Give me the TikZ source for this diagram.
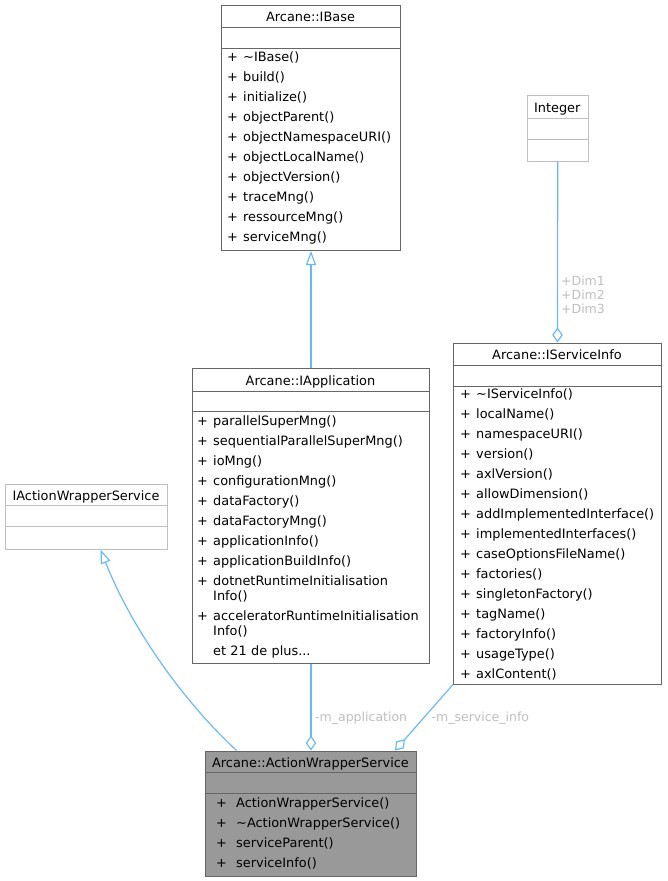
\documentclass[tikz,border=0pt]{standalone}
\usepackage{fontspec}
\setmainfont{DejaVu Sans}
\usepackage{xcolor}
\usepackage{tikz}
\usetikzlibrary{arrows.meta, positioning}

\definecolor{edgeblue}{HTML}{63B8FF}
\definecolor{boxgrey}{HTML}{666666}
\definecolor{undocgrey}{HTML}{BFBFBF}
\definecolor{mainfill}{HTML}{999999}
\definecolor{labelgrey}{HTML}{BEBEBE}
\newcommand{\cplus}[1][16pt]{\makebox[#1][l]{+}}

\begin{document}
\begin{tikzpicture}[x=1pt, y=-1pt,
		cls/.style={draw=boxgrey, line width=1pt, fill=white, inner sep=0pt, anchor=north west},
		undoc/.style={cls, draw=undocgrey},
		ttl/.style={anchor=base, inner sep=0pt, font=\fontsize{12.9}{15}\selectfont},
		mbr/.style={anchor=base west, inner sep=0pt, align=left, text width=250pt, font=\fontsize{12.9}{20}\selectfont},
		sepline/.style={draw=boxgrey, line width=1pt},
		lbl/.style={inner sep=0pt, text=labelgrey, font=\fontsize{12.5}{14.3}\selectfont},
		rel/.style={draw=edgeblue, line width=1.15pt},
		isa/.style={rel, -{Triangle[open, length=14pt, width=10pt]}},
		hasa/.style={rel, -{Diamond[open, length=15pt, width=10.5pt]}}]
				\useasboundingbox (0,0) rectangle (667,881);
				% Classes:
				\node[cls, minimum width=179pt, minimum height=245pt](IBase) at (221, 5){};
				\node[ttl](IBaseT) at (310.5, 21.5){Arcane::IBase};
				\draw[sepline] ([yshift=-22.5pt]IBase.north west) -- ([yshift=-22.5pt]IBase.north east);
				\draw[sepline] ([yshift=-43pt]IBase.north west) -- ([yshift=-43pt]IBase.north east);
				\node[mbr](IBaseM) at (227, 61.5){\cplus\textasciitilde IBase()\\ \cplus build()\\ \cplus initialize()\\ \cplus objectParent()\\ \cplus objectNamespaceURI()\\ \cplus objectLocalName()\\ \cplus objectVersion()\\ \cplus traceMng()\\ \cplus ressourceMng()\\ \cplus serviceMng()};
				\node[undoc, minimum width=60.5pt, minimum height=65.5pt](Integer) at (527, 95){};
				\node[ttl](IntegerT) at (557.25, 112.5){Integer};
				\draw[sepline, draw=undocgrey] ([yshift=-23pt]Integer.north west) -- ([yshift=-23pt]Integer.north east);
				\draw[sepline, draw=undocgrey] ([yshift=-44pt]Integer.north west) -- ([yshift=-44pt]Integer.north east);
				\node[cls, minimum width=237pt, minimum height=294.5pt](IApplication) at (192, 368){};
				\node[ttl](IApplicationT) at (310.5, 385){Arcane::IApplication};
				\draw[sepline] ([yshift=-23pt]IApplication.north west) -- ([yshift=-23pt]IApplication.north east);
				\draw[sepline] ([yshift=-43.5pt]IApplication.north west) -- ([yshift=-43.5pt]IApplication.north east);
				\node[mbr](IApplicationM) at (197, 425.5){\cplus parallelSuperMng()\\ \cplus sequentialParallelSuperMng()\\ \cplus ioMng()\\ \cplus configurationMng()\\ \cplus dataFactory()\\ \cplus dataFactoryMng()\\ \cplus applicationInfo()\\ \cplus applicationBuildInfo()\\ \cplus dotnetRuntimeInitialisation\\[-5pt] \hspace*{16pt}Info()\\ \cplus acceleratorRuntimeInitialisation\\[-5pt] \hspace*{16pt}Info()\\ \hspace*{16pt}et 21 de plus...};
				\node[cls, minimum width=208pt, minimum height=341pt](IServiceInfo) at (453, 342.5){};
				\node[ttl](IServiceInfoT) at (557, 359){Arcane::IServiceInfo};
				\draw[sepline] ([yshift=-22.5pt]IServiceInfo.north west) -- ([yshift=-22.5pt]IServiceInfo.north east);
				\draw[sepline] ([yshift=-43.5pt]IServiceInfo.north west) -- ([yshift=-43.5pt]IServiceInfo.north east);
				\node[mbr](IServiceInfoM) at (460, 398.5){\cplus\textasciitilde IServiceInfo()\\ \cplus localName()\\ \cplus namespaceURI()\\ \cplus version()\\ \cplus axlVersion()\\ \cplus allowDimension()\\ \cplus addImplementedInterface()\\ \cplus implementedInterfaces()\\ \cplus caseOptionsFileName()\\ \cplus factories()\\ \cplus singletonFactory()\\ \cplus tagName()\\ \cplus factoryInfo()\\ \cplus usageType()\\ \cplus axlContent()};
				\node[undoc, minimum width=162pt, minimum height=65pt](IActionWrapperService) at (5, 483.5){};
				\node[ttl](IActionWrapperServiceT) at (86, 500){IActionWrapperService};
				\draw[sepline, draw=undocgrey] ([yshift=-22pt]IActionWrapperService.north west) -- ([yshift=-22pt]IActionWrapperService.north east);
				\draw[sepline, draw=undocgrey] ([yshift=-43pt]IActionWrapperService.north west) -- ([yshift=-43pt]IActionWrapperService.north east);
				\node[cls, fill=mainfill, minimum width=211pt, minimum height=125pt](ActionWrapperService) at (205, 750.5){};
				\node[ttl](ActionWrapperServiceT) at (310.5, 767){Arcane::ActionWrapperService};
				\draw[sepline] ([yshift=-22pt]ActionWrapperService.north west) -- ([yshift=-22pt]ActionWrapperService.north east);
				\draw[sepline] ([yshift=-42.5pt]ActionWrapperService.north west) -- ([yshift=-42.5pt]ActionWrapperService.north east);
				\node[mbr](ActionWrapperServiceM) at (216, 807){\cplus[20pt]ActionWrapperService()\\ \cplus[20pt]\textasciitilde ActionWrapperService()\\ \cplus[20pt]serviceParent()\\ \cplus[20pt]serviceInfo()};
				% Relations:
				\draw[isa] (IApplication.north) -- (IBase.south);
				\draw[isa] ([xshift=31.5pt]ActionWrapperService.north west) .. controls (177.8, 695.8) and (129.2, 622.4) .. ([xshift=14pt]IActionWrapperService.south);
				\draw[hasa] (IApplication.south) -- (ActionWrapperService.north);
				\draw[hasa] (IServiceInfo.south west) -- ([xshift=-22pt]ActionWrapperService.north east);
				\draw[hasa] (Integer.south) -- (IServiceInfo.north);
				\node[lbl, anchor=base west](mApplication) at (315, 721.5){-m\_application};
				\node[lbl, anchor=base west](mServiceInfo) at (431.5, 721.5){-m\_service\_info};
				\node[lbl, anchor=base, align=center, text width=50pt](dims) at (583, 285){+Dim1\\+Dim2\\+Dim3};
			\end{tikzpicture}
\end{document}
